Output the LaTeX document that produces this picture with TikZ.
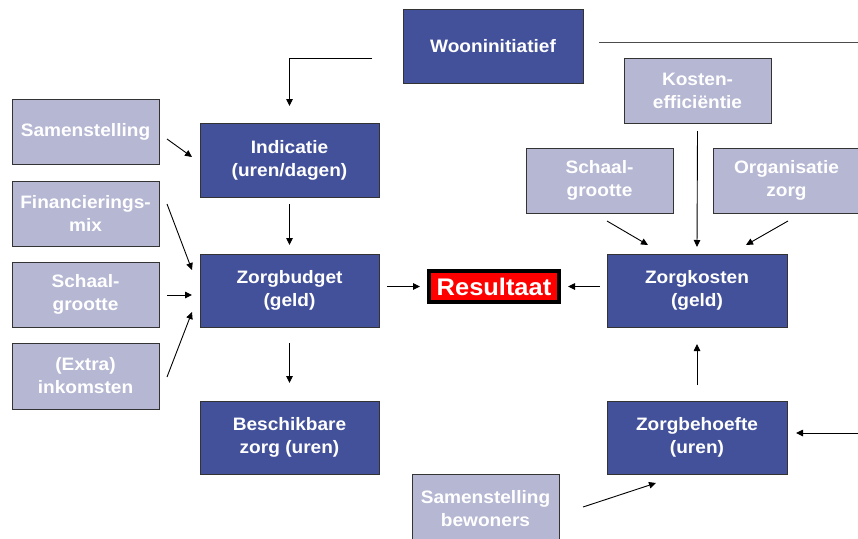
\documentclass[tikz,border=0pt]{standalone}
\usepackage{fontspec}
\setmainfont{Liberation Sans}[FakeStretch=1.06]
\usetikzlibrary{arrows.meta,calc}
\definecolor{darkbox}{HTML}{43519A}
\definecolor{lightbox}{HTML}{B5B7D3}
\definecolor{resred}{HTML}{FF0000}
\begin{document}
\begin{tikzpicture}[x=1pt,y=-1pt,
  box/.style={draw=black!80, line width=0.9pt, text=white, align=center,
    font=\bfseries\fontsize{18}{23}\selectfont,
    anchor=north west, inner sep=0pt, outer sep=0pt},
  dark/.style={box, fill=darkbox},
  light/.style={box, fill=lightbox},
  arr/.style={-{Triangle[length=7pt,width=6.5pt]}, line width=0.9pt, black},
  plain/.style={line width=0.9pt, black!70}]
\useasboundingbox (0,0) rectangle (858,538);

% dark boxes
\node[dark, minimum width=180pt, minimum height=74pt] (won) at (403,9) {Wooninitiatief};
\node[dark, minimum width=179pt, minimum height=74pt] (ind) at (200,123) {Indicatie\\(uren/dagen)};
\node[dark, minimum width=179pt, minimum height=73pt] (zb) at (200,254) {Zorgbudget\\(geld)};
\node[dark, minimum width=179pt, minimum height=73pt] (besch) at (200,401) {Beschikbare\\zorg (uren)};
\node[dark, minimum width=180pt, minimum height=73pt] (zk) at (607,254) {Zorgkosten\\(geld)};
\node[dark, minimum width=180pt, minimum height=73pt] (zbeh) at (607,401) {Zorgbehoefte\\(uren)};

% light boxes
\node[light, minimum width=147pt, minimum height=65pt] (samen) at (12,99) {Samenstelling};
\node[light, minimum width=147pt, minimum height=65pt] (fin) at (12,181) {Financierings-\\mix};
\node[light, minimum width=147pt, minimum height=65pt] (schaalL) at (12,262) {Schaal-\\grootte};
\node[light, minimum width=147pt, minimum height=66pt] (extra) at (12,343) {(Extra)\\inkomsten};
\node[light, minimum width=147pt, minimum height=65pt] (kosten) at (624,58) {Kosten-\\efficiëntie};
\node[light, minimum width=147pt, minimum height=65pt] (schaalR) at (526,148) {Schaal-\\grootte};
\node[light, minimum width=147pt, minimum height=65pt] (org) at (713,148) {Organisatie\\zorg};
\node[light, minimum width=147pt, minimum height=70pt] (samB) at (412,474) {Samenstelling\\bewoners};

% result
\node[box, draw=black, line width=4pt, fill=resred, minimum width=130pt, minimum height=31pt,
  font=\bfseries\fontsize{24}{28}\selectfont] (res) at (429,271) {Resultaat};

% free ends
\coordinate (wonout) at (372,58);
\coordinate (lineA) at (599,42);
\coordinate (lineB) at (858,42);
\coordinate (rightin) at (858,433);

% connectors
\draw[arr] (wonout) -| ([yshift=17pt]ind.north);
\draw[plain] (lineA) -- (lineB);
\draw[arr] ([shift={(8,7.5)}]samen.east) -- ([shift={(-8,-3)}]ind.west);
\draw[arr] ([yshift=-7pt]ind.south) -- ([yshift=9pt]zb.north);
\draw[arr] ([shift={(8,-9.5)}]fin.east) -- ([shift={(-8,-20.5)}]zb.west);
\draw[arr] ([shift={(8,0.5)}]schaalL.east) -- ([shift={(-8,4.5)}]zb.west);
\draw[arr] ([shift={(8,1)}]extra.east) -- ([shift={(-8,21.5)}]zb.west);
\draw[arr] ($(zb.east |- res.west)+(8,0)$) -- ($(res.west)+(-9,0)$);
\draw[arr] ([yshift=-16pt]zb.south) -- ([yshift=18pt]besch.north);
\draw[arr] ($(zk.west |- res.east)+(-7,0)$) -- ($(res.east)+(9,0)$);
\draw[arr] ([yshift=16pt]zbeh.north) -- ([yshift=-17pt]zk.south);
\draw[arr] (rightin) -- ([shift={(9,-4.5)}]zbeh.east);
\draw[arr] ([shift={(24,-2)}]samB.east) -- ([shift={(-41,9)}]zbeh.south);
\draw[arr] ([yshift=-8pt]kosten.south) -- ([yshift=7pt]zk.north);
\draw[arr] ([shift={(7.5,8)}]schaalR.south) -- ([shift={(-49,-9)}]zk.north);
\draw[arr] ([shift={(1.5,8)}]org.south) -- ([shift={(49,-9)}]zk.north);
\end{tikzpicture}
\end{document}
